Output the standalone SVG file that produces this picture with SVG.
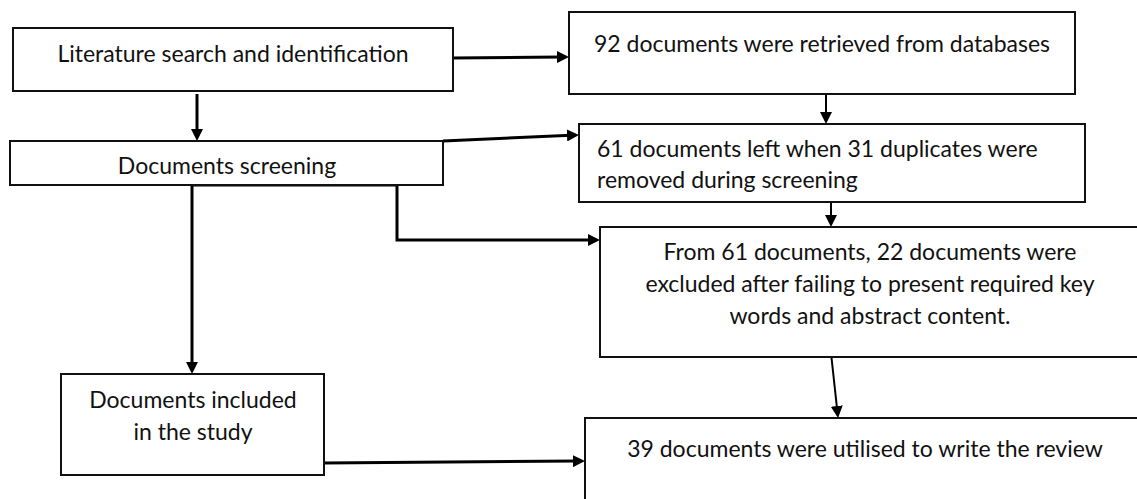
<svg xmlns="http://www.w3.org/2000/svg" width="1137" height="499" viewBox="0 0 1137 499">
  <style>
    .box { fill: #ffffff; stroke: #111111; stroke-width: 2; }
    .t { font-family: Lato, "Open Sans", sans-serif; font-size: 23px; fill: #111111; }
    .c { text-anchor: middle; }
    .conn { fill: none; stroke: #000000; stroke-width: 3; }
    .thin { stroke-width: 2; }
  </style>
  <defs>
    <marker id="ah" markerUnits="userSpaceOnUse" markerWidth="13" markerHeight="12" refX="4" refY="6" orient="auto">
      <path d="M0,0 L12,6 L0,12 z" fill="#000000"/>
    </marker>
  </defs>
  <rect width="1137" height="499" fill="#ffffff"/>

  <g id="connectors">
    <path class="conn" d="M453,58 L561,57" marker-end="url(#ah)"/>
    <path class="conn" d="M197,94 L197,133" marker-end="url(#ah)"/>
    <path class="conn thin" d="M826,95 L826,116" marker-end="url(#ah)"/>
    <path class="conn" d="M443,141 L571,135.3" marker-end="url(#ah)"/>
    <path class="conn" d="M192,185 L397,185 L397,240 L592,240" marker-end="url(#ah)"/>
    <path class="conn" d="M192,185 L192,366" marker-end="url(#ah)"/>
    <path class="conn thin" d="M831,202 L831,219" marker-end="url(#ah)"/>
    <path class="conn thin" d="M831,353 L837.2,410" marker-end="url(#ah)"/>
    <path class="conn" d="M324,463 L577,461.1" marker-end="url(#ah)"/>
  </g>

  <g id="node-literature">
    <rect class="box" x="13" y="28" width="440" height="63"/>
    <text class="t c" x="233" y="62">Literature search and identification</text>
  </g>

  <g id="node-retrieved">
    <rect class="box" x="569" y="12" width="506" height="82"/>
    <text class="t c" x="822" y="52">92 documents were retrieved from databases</text>
  </g>

  <g id="node-screening">
    <rect class="box" x="10" y="141" width="433" height="44"/>
    <text class="t c" x="227" y="174">Documents screening</text>
  </g>

  <g id="node-duplicates">
    <rect class="box" x="579" y="124" width="506" height="78"/>
    <text class="t" x="597" y="157">61 documents left when 31 duplicates were</text>
    <text class="t" x="597" y="188">removed during screening</text>
  </g>

  <g id="node-excluded">
    <rect class="box" x="600" y="227" width="545" height="130"/>
    <text class="t c" x="870" y="260">From 61 documents, 22 documents were</text>
    <text class="t c" x="870" y="292">excluded after failing to present required key</text>
    <text class="t c" x="870" y="324">words and abstract content.</text>
  </g>

  <g id="node-included">
    <rect class="box" x="61" y="374" width="263" height="101"/>
    <text class="t c" x="193" y="408">Documents included</text>
    <text class="t c" x="193" y="440">in the study</text>
  </g>

  <g id="node-utilised">
    <rect class="box" x="585" y="418" width="560" height="100"/>
    <text class="t c" x="865" y="457">39 documents were utilised to write the review</text>
  </g>
</svg>
